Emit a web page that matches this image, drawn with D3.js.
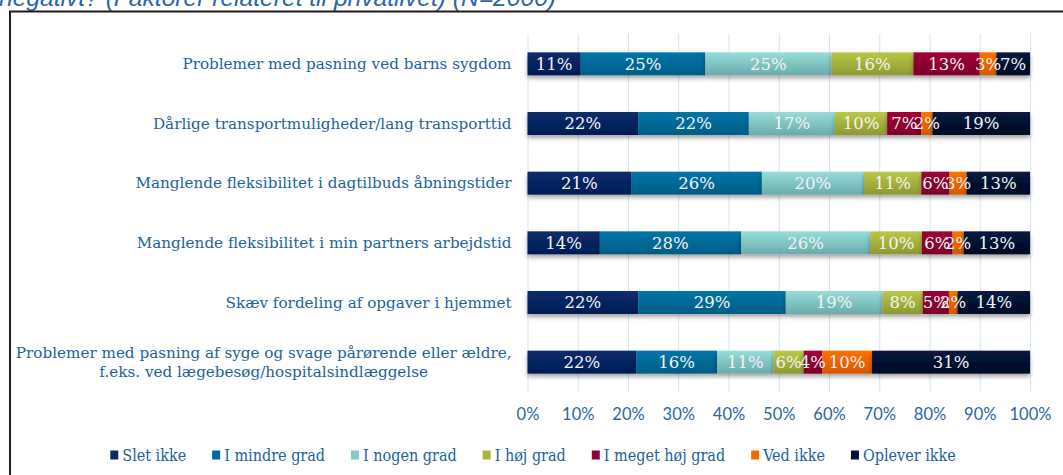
<!DOCTYPE html>
<html>
<head>
<meta charset="utf-8">
<script src="https://cdn.jsdelivr.net/npm/d3@7"></script>
<style>
  body { margin: 0; background: #fff; }
  .cat-label { font-family: 'DejaVu Serif', serif; font-size: 15.2px; fill: #2162a0; }
  .bar-label { font-family: 'DejaVu Serif', serif; font-size: 16.5px; fill: #f4f4f4; }
  .axis text { font-family: Lato, sans-serif; font-size: 16.5px; fill: #2a66a3; }
  .axis line { stroke: #cfe5f8; }
  .legend text { font-family: 'DejaVu Serif', serif; font-stretch: condensed; font-size: 16px; fill: #2162a0; }
  .title { font-family: 'Liberation Sans', Arial, sans-serif; font-style: italic; font-size: 24.6px; fill: #2a66a8; }
</style>
</head>
<body>
<svg id="chart"></svg>
<script>
// rows, top to bottom
const categories = [
  'Problemer med pasning ved barns sygdom',
  'Dårlige transportmuligheder/lang transporttid',
  'Manglende fleksibilitet i dagtilbuds åbningstider',
  'Manglende fleksibilitet i min partners arbejdstid',
  'Skæv fordeling af opgaver i hjemmet',
  'Problemer med pasning af syge og svage pårørende eller ældre,|f.eks. ved lægebesøg/hospitalsindlæggelse'
];

const seriesNames = ['Slet ikke', 'I mindre grad', 'I nogen grad', 'I høj grad', 'I meget høj grad', 'Ved ikke', 'Oplever ikke'];

// shares in percent, one value per row
const sletIkke       = [10.6, 22.0, 20.6, 14.4, 22.0, 21.6];
const iMindreGrad    = [24.8, 22.0, 26.0, 28.1, 29.3, 16.1];
const iNogenGrad     = [25.1, 17.1, 20.3, 25.7, 19.2, 11.2];
const iHoejGrad      = [16.3, 10.4, 11.4, 10.3, 8.0, 6.0];
const iMegetHoejGrad = [13.2, 6.8, 5.6, 6.1, 5.2, 3.7];
const vedIkke        = [3.3, 2.2, 3.4, 2.2, 1.7, 9.9];
const opleverIkke    = [6.7, 19.4, 12.6, 13.2, 14.4, 31.4];

const xTicks = [0, 0.1, 0.2, 0.3, 0.4, 0.5, 0.6, 0.7, 0.8, 0.9, 1];

// top / bottom colour of each series gradient
const colorsTop    = ['#0b2c6c', '#0075a7', '#97ddd9', '#bac846', '#a00236', '#ff7102', '#08193f'];
const colorsBottom = ['#001d54', '#005c86', '#6aabab', '#8d9932', '#7c002a', '#d65900', '#000a24'];
const colorsFlat   = ['#0a2a66', '#006b9b', '#86cbc8', '#a9b63e', '#900030', '#f06a00', '#04123a'];

class StackedBarChart {

  constructor(_config) {
    this.config = {
      parentElement: _config.parentElement,
      containerWidth: _config.containerWidth || 1063,
      containerHeight: _config.containerHeight || 475,
      margin: _config.margin || {top: 34, right: 33, bottom: 83, left: 527.5}
    };
    this.initVis();
  }

  initVis() {
    let vis = this;

    vis.width = vis.config.containerWidth - vis.config.margin.left - vis.config.margin.right;
    vis.height = vis.config.containerHeight - vis.config.margin.top - vis.config.margin.bottom;

    vis.svg = d3.select(vis.config.parentElement)
      .attr('width', vis.config.containerWidth)
      .attr('height', vis.config.containerHeight);

    // title line cut off by the top of the picture
    vis.svg.append('text')
      .attr('class', 'title')
      .attr('x', -1)
      .attr('y', 6)
      .text('negativt? (Faktorer relateret til privatlivet) (N=2000)');

    // outer frame
    vis.svg.append('rect')
      .attr('x', 10)
      .attr('y', 11.5)
      .attr('width', 1100)
      .attr('height', 500)
      .attr('fill', 'none')
      .attr('stroke', '#231a1f')
      .attr('stroke-width', 2);

    const defs = vis.svg.append('defs');
    seriesNames.forEach((s, i) => {
      const grad = defs.append('linearGradient')
        .attr('id', 'grad' + i)
        .attr('x1', 0).attr('y1', 0).attr('x2', 0).attr('y2', 1);
      grad.append('stop').attr('offset', '0%').attr('stop-color', colorsTop[i]);
      grad.append('stop').attr('offset', '100%').attr('stop-color', colorsBottom[i]);
    });
    defs.append('filter')
      .attr('id', 'shadow')
      .attr('x', '-5%').attr('y', '-30%').attr('width', '110%').attr('height', '180%')
      .append('feDropShadow')
      .attr('dx', 0).attr('dy', 3)
      .attr('stdDeviation', 2)
      .attr('flood-color', '#000')
      .attr('flood-opacity', 0.35);

    vis.chart = vis.svg.append('g')
      .attr('transform', `translate(${vis.config.margin.left},${vis.config.margin.top})`);

    vis.xScale = d3.scaleLinear()
      .domain([0, 1])
      .range([0, vis.width]);

    vis.yScale = d3.scaleBand()
      .domain(categories)
      .range([0, vis.height])
      .paddingInner(0.615)
      .paddingOuter(0.3075);

    vis.xAxis = d3.axisBottom(vis.xScale)
      .tickValues(xTicks)
      .tickSize(-vis.height)
      .tickPadding(16)
      .tickFormat(d3.format('.0%'));

    vis.xAxisG = vis.chart.append('g')
      .attr('class', 'axis x-axis')
      .attr('transform', `translate(0,${vis.height})`);

    vis.updateVis();
  }

  updateVis() {
    let vis = this;

    const seriesValues = [sletIkke, iMindreGrad, iNogenGrad, iHoejGrad, iMegetHoejGrad, vedIkke, opleverIkke];
    vis.data = categories.map((c, j) => {
      const row = {category: c};
      seriesNames.forEach((s, i) => row[s] = seriesValues[i][j]);
      return row;
    });

    vis.stack = d3.stack()
      .keys(seriesNames)
      .offset(d3.stackOffsetExpand)(vis.data);

    vis.renderVis();
  }

  renderVis() {
    let vis = this;

    vis.xAxisG
      .call(vis.xAxis)
      .call(g => g.select('.domain').remove());

    const layers = vis.chart.selectAll('.layer')
      .data(vis.stack)
      .join('g')
      .attr('class', 'layer')
      .attr('fill', (d, i) => `url(#grad${i})`)
      .attr('filter', 'url(#shadow)');

    const bh = vis.yScale.bandwidth();

    layers.selectAll('rect')
      .data(d => d)
      .join('rect')
      .attr('x', d => vis.xScale(d[0]))
      .attr('y', d => vis.yScale(d.data.category))
      .attr('width', d => vis.xScale(d[1]) - vis.xScale(d[0]))
      .attr('height', bh);

    // value labels on top of every segment
    const fmt = d3.format('.0%');
    vis.stack.forEach(layer => {
      vis.chart.selectAll(null)
        .data(layer)
        .join('text')
        .attr('class', 'bar-label')
        .attr('x', d => vis.xScale((d[0] + d[1]) / 2))
        .attr('y', d => vis.yScale(d.data.category) + bh / 2)
        .attr('dy', '0.36em')
        .attr('text-anchor', 'middle')
        .text(d => fmt(d[1] - d[0]));
    });

    // category labels, right aligned, multi-line blocks centred on themselves
    const labelX = -16;
    categories.forEach(c => {
      const lines = c.split('|');
      const cy = vis.yScale(c) + bh / 2;
      const t = vis.chart.append('text')
        .attr('class', 'cat-label')
        .attr('text-anchor', lines.length > 1 ? 'middle' : 'end');
      lines.forEach((l, k) => {
        t.append('tspan')
          .attr('y', cy + (k - (lines.length - 1) / 2) * 19.5)
          .attr('dy', '0.35em')
          .text(l);
      });
      if (lines.length > 1) {
        const w = d3.max(t.selectAll('tspan').nodes(), n => n.getComputedTextLength());
        t.selectAll('tspan').attr('x', labelX - w / 2);
      } else {
        t.selectAll('tspan').attr('x', labelX);
      }
    });

    // legend, items laid out by text width and centred under the chart
    const legend = vis.svg.append('g').attr('class', 'legend');
    let xPos = 0;
    seriesNames.forEach((s, i) => {
      const item = legend.append('g').attr('transform', `translate(${xPos},0)`);
      item.append('rect')
        .attr('x', 0).attr('y', -4.5)
        .attr('width', 8).attr('height', 9)
        .attr('fill', colorsFlat[i]);
      const txt = item.append('text')
        .attr('x', 12)
        .attr('dy', '0.35em')
        .text(s);
      xPos += 12 + txt.node().getComputedTextLength() + 26;
    });
    const legendW = xPos - 26;
    legend.attr('transform', `translate(${533 - legendW / 2},455)`);
  }
}

const chart = new StackedBarChart({parentElement: '#chart'});
</script>
</body>
</html>
